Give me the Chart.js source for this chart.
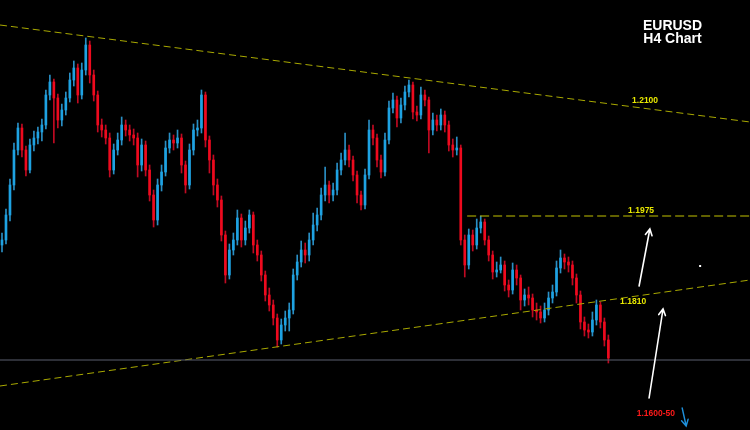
<!DOCTYPE html>
<html><head><meta charset="utf-8">
<style>html,body{margin:0;padding:0;background:#000;overflow:hidden}canvas{display:block}</style>
<script src="https://cdn.jsdelivr.net/npm/chart.js@4.4.0/dist/chart.umd.min.js"></script>
</head><body>
<div style="width:750px;height:430px"><canvas id="c" width="750" height="430"></canvas></div>
<script>
// EURUSD H4 candles
const openP = [1.1946,1.1951,1.1976,1.2006,1.2041,1.2063,1.2041,1.2021,1.2046,1.2053,
 1.2059,1.2066,1.2096,1.2109,1.2093,1.2071,1.2081,1.2093,1.2111,1.2123,
 1.2096,1.2121,1.2146,1.2116,1.2096,1.2066,1.2061,1.2053,1.2021,1.2041,
 1.2051,1.2066,1.2061,1.2056,1.2053,1.2026,1.2046,1.2021,1.1996,1.1971,
 1.2006,1.2019,1.2043,1.2051,1.2048,1.2053,1.2026,1.2006,1.2041,1.2061,
 1.2063,1.2096,1.2051,1.2031,1.2006,1.1991,1.1956,1.1916,1.1941,1.1951,
 1.1973,1.1951,1.1963,1.1976,1.1946,1.1936,1.1916,1.1896,1.1886,1.1873,
 1.1851,1.1866,1.1873,1.1881,1.1916,1.1929,1.1941,1.1936,1.1951,1.1966,
 1.1976,1.1996,1.2006,1.1996,1.2001,1.2021,1.2031,1.2041,1.2031,1.2016,
 1.1996,1.1986,1.2016,1.2061,1.2053,1.2031,1.2019,1.2051,1.2083,1.2091,
 1.2073,1.2086,1.2099,1.2106,1.2079,1.2076,1.2096,1.2091,1.2061,1.2071,
 1.2066,1.2076,1.2066,1.2046,1.2041,1.2043,1.1951,1.1926,1.1956,1.1946,
 1.1963,1.1969,1.1951,1.1936,1.1919,1.1921,1.1926,1.1906,1.1901,1.1921,
 1.1913,1.1891,1.1896,1.1893,1.1881,1.1879,1.1873,1.1881,1.1893,1.1899,
 1.1923,1.1933,1.1929,1.1926,1.1913,1.1896,1.1869,1.1861,1.1859,1.1871,
 1.1886,1.1869,1.1851];
const highP = [1.1958,1.1982,1.2012,1.2048,1.2068,1.2067,1.2045,1.2052,1.2060,1.2064,
 1.2072,1.2101,1.2116,1.2112,1.2097,1.2087,1.2099,1.2118,1.2130,1.2127,
 1.2128,1.2153,1.2150,1.2121,1.2100,1.2072,1.2066,1.2058,1.2047,1.2058,
 1.2074,1.2071,1.2066,1.2062,1.2058,1.2052,1.2050,1.2026,1.2001,1.2012,
 1.2026,1.2050,1.2058,1.2056,1.2061,1.2057,1.2030,1.2047,1.2067,1.2071,
 1.2101,1.2099,1.2055,1.2036,1.2012,1.1995,1.1960,1.1947,1.1958,1.1981,
 1.1977,1.1970,1.1981,1.1979,1.1951,1.1940,1.1920,1.1903,1.1891,1.1877,
 1.1872,1.1880,1.1888,1.1922,1.1936,1.1950,1.1948,1.1958,1.1978,1.1983,
 1.2003,1.2024,1.2010,1.2008,1.2028,1.2038,1.2058,1.2046,1.2035,1.2020,
 1.2000,1.2022,1.2071,1.2066,1.2057,1.2036,1.2058,1.2090,1.2098,1.2095,
 1.2093,1.2105,1.2111,1.2109,1.2085,1.2104,1.2101,1.2094,1.2078,1.2076,
 1.2082,1.2080,1.2070,1.2052,1.2054,1.2046,1.1956,1.1962,1.1961,1.1972,
 1.1975,1.1972,1.1955,1.1940,1.1929,1.1934,1.1930,1.1911,1.1928,1.1926,
 1.1916,1.1902,1.1904,1.1897,1.1888,1.1885,1.1888,1.1899,1.1906,1.1930,
 1.1941,1.1937,1.1934,1.1930,1.1917,1.1900,1.1874,1.1867,1.1879,1.1891,
 1.1889,1.1873,1.1856];
const lowP = [1.1939,1.1947,1.1970,1.2001,1.2036,1.2034,1.2015,1.2018,1.2040,1.2047,
 1.2050,1.2062,1.2091,1.2048,1.2063,1.2065,1.2076,1.2089,1.2105,1.2088,
 1.2092,1.2116,1.2108,1.2090,1.2059,1.2054,1.2047,1.2014,1.2017,1.2036,
 1.2046,1.2055,1.2050,1.2046,1.2014,1.2020,1.2015,1.1990,1.1964,1.1966,
 1.2000,1.2015,1.2038,1.2041,1.2043,1.2018,1.1998,1.2002,1.2036,1.2055,
 1.2058,1.2044,1.2018,1.1996,1.1984,1.1950,1.1908,1.1912,1.1936,1.1946,
 1.1944,1.1946,1.1958,1.1938,1.1930,1.1910,1.1890,1.1880,1.1866,1.1844,
 1.1847,1.1860,1.1860,1.1877,1.1911,1.1924,1.1928,1.1930,1.1946,1.1960,
 1.1971,1.1990,1.1988,1.1990,1.1996,1.2016,1.2026,1.2024,1.2010,1.1988,
 1.1981,1.1982,1.2012,1.2046,1.2024,1.2013,1.2015,1.2047,1.2078,1.2064,
 1.2068,1.2081,1.2094,1.2072,1.2070,1.2072,1.2085,1.2038,1.2056,1.2060,
 1.2061,1.2059,1.2040,1.2034,1.2036,1.1946,1.1914,1.1922,1.1940,1.1942,
 1.1958,1.1946,1.1930,1.1912,1.1914,1.1918,1.1900,1.1894,1.1897,1.1906,
 1.1881,1.1885,1.1886,1.1874,1.1871,1.1868,1.1869,1.1876,1.1888,1.1895,
 1.1918,1.1922,1.1919,1.1906,1.1888,1.1862,1.1855,1.1853,1.1855,1.1866,
 1.1863,1.1845,1.1828];
const closeP = [1.1951,1.1976,1.2006,1.2041,1.2063,1.2041,1.2021,1.2046,1.2053,1.2059,
 1.2066,1.2096,1.2109,1.2093,1.2071,1.2081,1.2093,1.2111,1.2123,1.2096,
 1.2121,1.2146,1.2116,1.2096,1.2066,1.2061,1.2053,1.2021,1.2041,1.2051,
 1.2066,1.2061,1.2056,1.2053,1.2026,1.2046,1.2021,1.1996,1.1971,1.2006,
 1.2019,1.2043,1.2051,1.2048,1.2053,1.2026,1.2006,1.2041,1.2061,1.2063,
 1.2096,1.2051,1.2031,1.2006,1.1991,1.1956,1.1916,1.1941,1.1951,1.1973,
 1.1951,1.1963,1.1976,1.1946,1.1936,1.1916,1.1896,1.1886,1.1873,1.1851,
 1.1866,1.1873,1.1881,1.1916,1.1929,1.1941,1.1936,1.1951,1.1966,1.1976,
 1.1996,1.2006,1.1996,1.2001,1.2021,1.2031,1.2041,1.2031,1.2016,1.1996,
 1.1986,1.2016,1.2061,1.2053,1.2031,1.2019,1.2051,1.2083,1.2091,1.2073,
 1.2086,1.2099,1.2106,1.2079,1.2076,1.2096,1.2091,1.2061,1.2071,1.2066,
 1.2076,1.2066,1.2046,1.2041,1.2043,1.1951,1.1926,1.1956,1.1946,1.1963,
 1.1969,1.1951,1.1936,1.1919,1.1921,1.1926,1.1906,1.1901,1.1921,1.1913,
 1.1891,1.1896,1.1893,1.1881,1.1879,1.1873,1.1881,1.1893,1.1899,1.1923,
 1.1933,1.1929,1.1926,1.1913,1.1896,1.1869,1.1861,1.1859,1.1871,1.1886,
 1.1869,1.1851,1.1833];

// Drawn levels (x in bar-slot units, y in price)
const upperTrendX = [-0.5, 187.5];
const upperTrendY = [1.2166, 1.2069];
const lowerTrendX = [-0.5, 187.5];
const lowerTrendY = [1.1805, 1.1911];
const resistX = [116.6, 187.5];
const resistY = [1.1975, 1.1975];
const priceLineX = [-0.5, 187.5];
const priceLineY = [1.1831, 1.1831];

// Text labels
const levelTexts = ['1.2100', '1.1975', '1.1810', '1.1600-50'];
const levelX = [161.2, 160.2, 158.2, 163.9];
const levelY = [1.20905, 1.1980, 1.1889, 1.1777];
const titleLines = ['EURUSD', 'H4 Chart'];

// Arrows [x1, y1, x2, y2]
const arrowsWhite = [[159.7, 1.1905, 162.4, 1.1962], [162.2, 1.1793, 165.7, 1.1882]];
const arrowsBlue = [[170.5, 1.1783, 171.5, 1.1765]];
const dotPoint = [175.0, 1.1925];

const UP = '#1ea2e2', DOWN = '#ee0a1e', UPW = '#2a8fc4', DOWNW = '#c00a22';

const bodies = openP.map((o, i) => ({x: i, y: [o, closeP[i]]}));
const wicks = lowP.map((l, i) => ({x: i, y: [l, highP[i]]}));
const isUp = i => closeP[i] >= openP[i];
const pts = (xs, ys) => xs.map((x, i) => ({x, y: ys[i]}));

const overlay = {
  id: 'overlay',
  beforeDraw(chart) {
    const c = chart.ctx; c.save(); c.fillStyle = '#000'; c.fillRect(0, 0, chart.width, chart.height); c.restore();
  },
  afterDatasetsDraw(chart) {
    const c = chart.ctx, xs = chart.scales.x, ys = chart.scales.y;
    c.save();
    c.font = 'bold 8.5px "Liberation Sans", Arial, sans-serif';
    c.textAlign = 'center'; c.textBaseline = 'middle';
    levelTexts.forEach((t, i) => {
      c.fillStyle = i === 3 ? '#ff1a1a' : '#e8e800';
      c.fillText(t, xs.getPixelForValue(levelX[i]), ys.getPixelForValue(levelY[i]));
    });
    c.fillStyle = '#ffffff';
    c.font = 'bold 14px "Liberation Sans", Arial, sans-serif';
    c.textBaseline = 'alphabetic';
    c.fillText(titleLines[0], 672.5, 29.5);
    c.fillText(titleLines[1], 672.5, 42.5);
    const drawArrow = (a, col, w) => {
      const x1 = xs.getPixelForValue(a[0]), y1 = ys.getPixelForValue(a[1]);
      const x2 = xs.getPixelForValue(a[2]), y2 = ys.getPixelForValue(a[3]);
      const ang = Math.atan2(y2 - y1, x2 - x1), L = 7, sp = 0.5;
      c.strokeStyle = col; c.lineWidth = w; c.lineCap = 'round';
      c.beginPath(); c.moveTo(x1, y1); c.lineTo(x2, y2);
      c.moveTo(x2 - L * Math.cos(ang - sp), y2 - L * Math.sin(ang - sp));
      c.lineTo(x2, y2);
      c.lineTo(x2 - L * Math.cos(ang + sp), y2 - L * Math.sin(ang + sp));
      c.stroke();
    };
    arrowsWhite.forEach(a => drawArrow(a, '#ffffff', 1.6));
    arrowsBlue.forEach(a => drawArrow(a, '#1e90dc', 1.4));
    c.fillStyle = '#ffffff';
    c.fillRect(xs.getPixelForValue(dotPoint[0]) - 1, ys.getPixelForValue(dotPoint[1]) - 1, 2, 2);
    c.restore();
  }
};

const lineDs = (data, color, dash) => ({
  type: 'line', data, borderColor: color, borderWidth: 1, borderDash: dash,
  pointRadius: 0, fill: false, tension: 0, order: 0
});

new Chart(document.getElementById('c'), {
  type: 'bar',
  data: {
    datasets: [
      lineDs(pts(priceLineX, priceLineY), '#5a5f6e', []),
      {
        label: 'wick', data: wicks, grouped: false, barThickness: 1, order: 3,
        backgroundColor: ctx => isUp(ctx.dataIndex) ? UPW : DOWNW, borderWidth: 0
      },
      {
        label: 'body', data: bodies, grouped: false, barThickness: 2, order: 2, minBarLength: 1,
        backgroundColor: ctx => isUp(ctx.dataIndex) ? UP : DOWN, borderWidth: 0
      },
      lineDs(pts(upperTrendX, upperTrendY), '#a9a900', [7, 4]),
      lineDs(pts(lowerTrendX, lowerTrendY), '#a9a900', [7, 4]),
      lineDs(pts(resistX, resistY), '#c2c200', [9, 4])
    ]
  },
  options: {
    responsive: false, animation: false, devicePixelRatio: 1,
    layout: {padding: 0},
    plugins: {legend: {display: false}, tooltip: {enabled: false}, title: {display: false}},
    scales: {
      x: {type: 'linear', min: -0.5, max: 187.5, display: false, offset: false},
      y: {type: 'linear', min: 1.1761, max: 1.2191, display: false}
    }
  },
  plugins: [overlay]
});
</script>
</body></html>
